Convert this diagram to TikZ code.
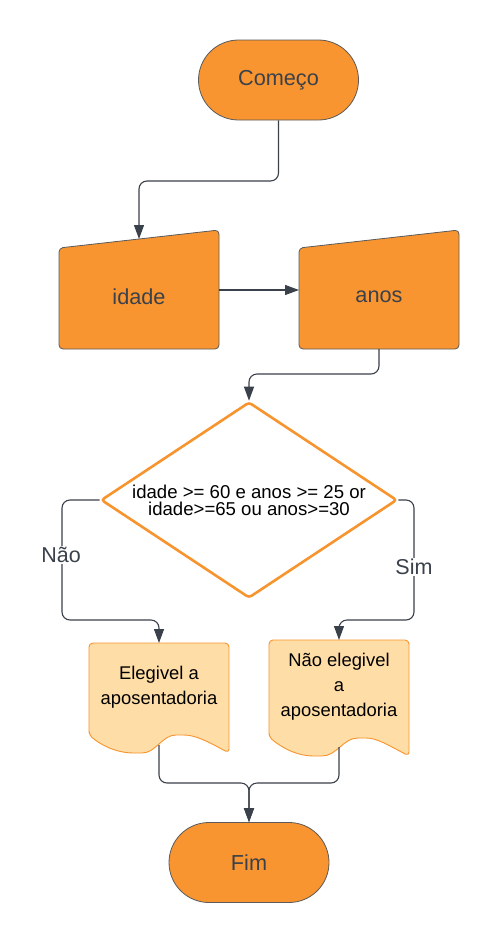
\documentclass[tikz,border=0pt]{standalone}
\usepackage{fontspec}
\setmainfont{Liberation Sans}
\usetikzlibrary{shapes.geometric,arrows.meta}

% Changing colors
\definecolor{r249g149b48}{rgb}{0.976471,0.584314,0.188235}%
\definecolor{r247g148b46}{rgb}{0.968627,0.580392,0.180392}%
\definecolor{r255g221b166}{rgb}{1.000000,0.866667,0.650980}%
\definecolor{r58g65b74}{rgb}{0.227451,0.254902,0.290196}%
\definecolor{r90g90b90}{rgb}{0.352941,0.352941,0.352941}%

\begin{document}
\begin{tikzpicture}[x=1pt,y=-1pt,
    terminal/.style={draw=r90g90b90,line width=0.8pt,fill=r249g149b48,
      rounded corners=40pt,minimum width=160pt,minimum height=80pt,
      text=r58g65b74,font=\fontsize{21.7}{26}\selectfont},
    entrada/.style={draw=r90g90b90,line width=0.8pt,fill=r249g149b48,rounded corners=4pt},
    entradatexto/.style={text=r58g65b74,font=\fontsize{21.7}{26}\selectfont},
    decisao/.style={diamond,aspect=1.51,draw=r247g148b46,line width=2.6pt,fill=white,
      rounded corners=3pt,inner sep=0pt,minimum width=296pt,minimum height=196pt,
      align=center,font=\fontsize{18.6}{17}\selectfont},
    documento/.style={draw=r247g148b46,line width=0.9pt,fill=r255g221b166,rounded corners=4pt},
    documentotexto/.style={align=center,font=\fontsize{18.4}{25}\selectfont},
    rotulo/.style={fill=white,inner sep=1pt,text=r58g65b74,font=\fontsize{21.5}{26}\selectfont},
    fluxo/.style={draw=r58g65b74,line width=1.1pt,rounded corners=8pt,
      -{Triangle[width=10pt,length=14pt]}}]
\useasboundingbox (0,0) rectangle (499,943);

% Drawing terminal Comeco
\node [terminal] (comeco) at (278.5,80) {Começo};%

% Drawing manual input idade
\filldraw [entrada] (59,349) -- (59,248) -- (219,230) -- (219,349) -- cycle;%
\node [entradatexto] (idade) at (139,297) {idade};%
\coordinate (idade in) at (139,239);%
\coordinate (idade out) at (219,290);%

% Drawing manual input anos
\filldraw [entrada] (299,349) -- (299,248) -- (459,230) -- (459,349) -- cycle;%
\node [entradatexto] (anos) at (379,297) {anos};%
\coordinate (anos in) at (299,290);%
\coordinate (anos out) at (379,349);%

% Drawing decision
\node [decisao] (teste) at (249,500) {idade >= 60 e anos >= 25 or\\idade>=65 ou anos>=30};%

% Drawing document Elegivel
\filldraw [documento] (89,735) -- (89,643) -- (229,643) -- (229,753)
  .. controls (207,741) and (195,735) .. (180,735)
  .. controls (162,735) and (156,753) .. (138,753)
  .. controls (116,753) and (101,745) .. (89,735) -- cycle;%
\node [documentotexto] (elegivel) at (159,687) {Elegivel a\\aposentadoria};%
\coordinate (elegivel in) at (159,643);%
\coordinate (elegivel out) at (159,745);%

% Drawing document Nao elegivel
\filldraw [documento] (269,737) -- (269,640) -- (409,640) -- (409,756)
  .. controls (388,745) and (377,738) .. (362,738)
  .. controls (343,738) and (337,756) .. (318,756)
  .. controls (296,756) and (281,747) .. (269,737) -- cycle;%
\node [documentotexto] (naoelegivel) at (339,687) {Não elegivel\\a\\aposentadoria};%
\coordinate (naoelegivel in) at (339,640);%
\coordinate (naoelegivel out) at (339,747);%

% Drawing terminal Fim
\node [terminal] (fim) at (249,862.5) {Fim};%

% Drawing connectors
\draw [fluxo] (comeco.south) |- (139,181) -- (idade in);%
\draw [fluxo] (idade out) -- (anos in);%
\draw [fluxo] (anos out) |- (249,374) -- (teste.north);%
\draw [fluxo] (teste.west) -| (62,620) -| (elegivel in);%
\draw [fluxo] (teste.east) -| (414,620) -| (naoelegivel in);%
\draw [fluxo] (elegivel out) |- (249,783) -- (fim.north);%
\draw [fluxo] (naoelegivel out) |- (249,783) -- (fim.north);%

% Marking labels
\node [rotulo] (nao) at (61,555) {Não};%
\node [rotulo] (sim) at (414,567) {Sim};%
\end{tikzpicture}
\end{document}
